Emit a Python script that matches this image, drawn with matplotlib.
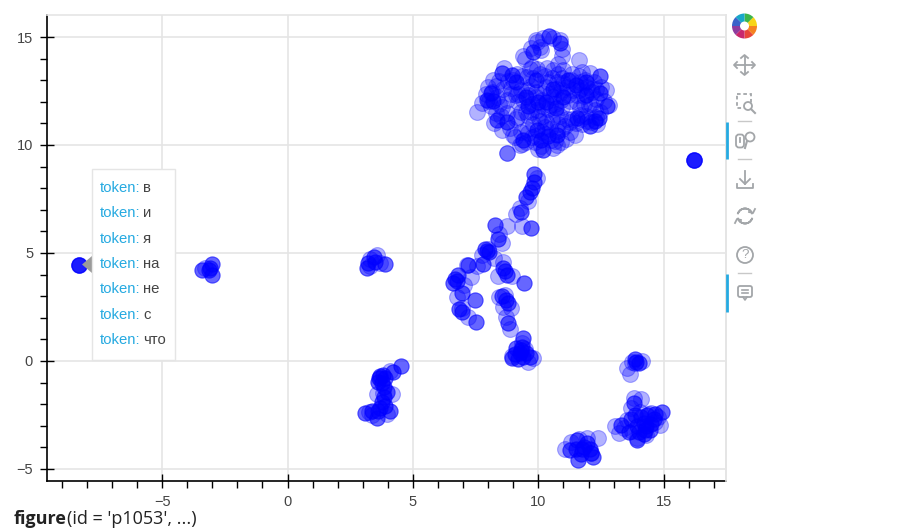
import matplotlib
matplotlib.use('Agg')
import matplotlib.pyplot as plt
from matplotlib.patches import Rectangle, Polygon, Circle, Wedge, FancyBboxPatch

# solid looking points (several tokens stacked on the same spot)
dense_left = [(-8.3, 4.45), (-8.3, 4.45), (16.2, 9.3), (16.2, 9.3), (-3.0, 4.5), (-3.0, 4.0), (-3.4, 4.2),
              (-3.15, 4.2), (-3.1, 4.3), (3.15, 4.3), (3.2, 4.55), (3.45, 4.8), (3.5, 4.6), (3.9, 4.5)]
dense_low = [(4.53, -0.23), (4.2, -0.5), (3.8, -0.65), (3.6, -0.97), (3.96, -1.43), (3.76, -1.9),
             (3.1, -2.4), (3.56, -2.64), (4.08, -2.3), (3.7, -2.2), (3.65, -0.8), (3.85, -1.2),
             (3.75, -1.0), (3.9, -0.8), (3.85, -1.65), (3.6, -2.3), (3.35, -2.3), (3.9, -2.1), (3.7, -0.7)]
dense_mid = [(9.83, 8.66), (9.83, 8.3), (9.67, 7.82), (9.5, 7.6), (9.3, 6.9), (9.7, 6.15), (8.27, 6.3),
             (8.4, 5.65), (7.88, 5.18), (8.05, 5.05), (7.2, 4.45), (7.8, 4.5), (6.68, 3.8), (6.8, 4.0),
             (6.6, 3.6), (6.96, 3.15), (7.48, 2.82), (6.96, 2.27), (6.85, 2.4), (7.5, 1.8), (8.6, 4.3),
             (8.75, 4.0), (8.65, 4.15), (9.43, 3.6), (8.55, 3.0), (8.7, 2.8), (8.8, 2.68), (8.8, 1.75),
             (9.4, 1.05), (9.27, 0.37), (8.96, 0.12), (9.67, 0.2), (9.3, 0.5), (9.4, 0.2), (9.1, 0.6),
             (9.2, 0.1), (9.5, 0.35), (9.35, 0.65), (9.05, 0.3), (6.75, 3.7), (9.75, 8.0), (7.95, 5.1)]
dense_right = [(13.9, -0.05), (13.85, 0.1), (14.0, -0.1), (14.93, -2.35), (13.8, -1.95), (13.3, -2.97),
               (13.93, -3.66), (14.45, -3.2), (14.2, -2.87), (14.3, -3.0), (14.6, -2.7), (14.0, -3.3),
               (14.25, -3.2), (14.1, -2.6), (13.85, -2.5), (14.5, -2.9), (13.95, -3.0), (14.35, -2.5),
               (13.6, -3.3), (14.65, -2.45), (14.2, -3.4), (13.7, -2.7),
               (12.18, -4.45), (11.58, -4.58), (11.26, -4.12), (11.8, -3.98), (11.53, -3.66),
               (12.05, -4.1), (11.7, -4.3), (11.95, -3.8), (11.75, -4.1), (11.5, -4.1), (12.1, -4.25)]
dense_top = [(10.44, 15.05), (10.87, 14.74), (9.78, 14.32), (8.54, 13.32), (8.94, 13.24), (12.46, 13.2),
             (7.94, 12.09), (8.34, 11.16), (8.74, 11.08), (12.46, 12.4), (12.73, 11.8),
             (12.4, 11.24), (12.06, 10.88), (11.53, 11.24), (10.2, 9.77), (9.4, 10.23), (10.73, 10.47),
             (9.94, 10.7), (10.3, 12.0), (11.5, 12.8), (11.0, 12.2), (9.6, 11.8), (10.0, 12.0), (10.7, 11.7),
             (11.9, 12.9), (11.9, 12.3), (9.1, 12.9), (9.9, 13.0), (10.4, 10.4), (8.1, 12.4), (11.2, 13.0),
             (10.6, 12.6), (9.5, 12.2), (8.2, 12.05), (12.25, 11.1), (10.1, 10.25)]
dense_stray = [(8.74, 9.62)]

# see-through points, one list per group
light_top = [(7.57, 11.55), (7.75, 11.95), (7.9, 12.35), (8.0, 12.7), (8.1, 11.8), (8.15, 12.45),
             (8.2, 13.0), (8.3, 11.5), (8.35, 12.2), (8.45, 12.95), (8.5, 11.35), (8.6, 12.6),
             (8.62, 13.55), (8.55, 11.75), (8.8, 12.95), (8.85, 10.8), (8.9, 12.35), (8.75, 11.5),
             (9.0, 13.0), (9.05, 10.35), (9.2, 12.0), (9.2, 12.35), (9.25, 10.0), (9.1, 11.2),
             (9.35, 13.2), (9.4, 12.1), (9.45, 14.0), (9.5, 11.55), (9.7, 12.75), (9.6, 10.55),
             (9.65, 13.5), (9.7, 14.5), (9.75, 11.9), (9.8, 13.1), (9.85, 10.15), (9.9, 12.45),
             (9.95, 14.75), (10.0, 11.3), (10.05, 13.3), (10.1, 9.95), (10.15, 12.1), (10.1, 14.4),
             (10.25, 10.85), (10.3, 12.7), (10.35, 13.55), (10.4, 11.65), (10.45, 12.35), (10.5, 10.25),
             (10.55, 13.1), (10.6, 14.95), (10.65, 11.9), (10.7, 12.6), (10.75, 10.65), (10.8, 13.3),
             (10.85, 11.35), (10.9, 12.1), (10.95, 14.1), (11.0, 12.85), (11.05, 10.9), (10.95, 11.75),
             (11.0, 13.45), (11.2, 12.3), (11.25, 10.6), (11.3, 13.0), (11.35, 11.2), (11.4, 12.55),
             (11.6, 13.95), (11.5, 11.0), (11.55, 12.3), (11.6, 13.2), (11.65, 11.7), (11.7, 12.65),
             (11.75, 10.95), (11.8, 12.25), (11.85, 13.0), (11.9, 11.35), (11.95, 12.7), (12.0, 11.85),
             (12.05, 13.35), (12.1, 11.05), (12.15, 12.45), (12.2, 12.9), (12.25, 11.6), (12.3, 12.15),
             (12.35, 10.95), (12.5, 12.7), (12.6, 12.05), (12.7, 12.55), (12.8, 11.85), (12.45, 11.55),
             (8.25, 11.0), (8.55, 10.7), (9.0, 10.45), (9.35, 10.05), (10.6, 9.85), (10.9, 10.15),
             (11.1, 10.3), (11.45, 10.45), (9.55, 10.75), (9.85, 10.4), (10.0, 9.8), (10.25, 10.5),
             (10.75, 10.0), (10.95, 10.75), (11.65, 11.4), (9.4, 14.1), (9.75, 13.6), (10.05, 14.55),
             (9.9, 14.85), (10.95, 14.45), (10.8, 13.75), (10.2, 14.95), (10.85, 14.85),
             (8.75, 12.1), (9.15, 11.3), (9.6, 12.3), (10.05, 11.1), (10.4, 12.9), (10.85, 12.4),
             (11.8, 11.9), (11.7, 11.2), (12.1, 11.9), (9.95, 11.6), (10.2, 11.35), (10.55, 11.15),
             (10.8, 10.95), (11.15, 11.2), (10.3, 11.05), (9.6, 11.35), (9.8, 10.95), (9.3, 11.55),
             (9.1, 12.3), (8.9, 12.65), (9.3, 12.55), (9.15, 13.3), (9.55, 13.15), (9.95, 13.5),
             (10.25, 13.2), (10.6, 13.45), (10.95, 13.1), (11.35, 13.3), (11.75, 13.4), (12.1, 12.6),
             (11.55, 12.0), (11.25, 12.05), (10.95, 12.55), (10.6, 12.2), (10.2, 12.4), (9.9, 12.2),
             (9.55, 12.55), (11.6, 12.55), (12.3, 12.6), (12.3, 11.3), (11.95, 11.1), (11.65, 12.9),
             (10.45, 11.85), (10.15, 11.8), (9.7, 11.55), (8.3, 12.75), (8.05, 12.05), (8.45, 11.9),
             (10.75, 12.9), (11.15, 12.7), (10.7, 11.45), (10.45, 10.75), (10.15, 10.6), (9.75, 10.35),
             (9.3, 10.6), (9.5, 10.15), (10.65, 10.2), (11.25, 11.05)]
light_left = [(-8.3, 4.45), (16.2, 9.3), (-3.3, 4.3), (3.3, 4.4), (3.7, 4.55), (3.3, 4.7), (3.55, 4.9),
              (4.1, -0.45), (3.7, -0.8), (3.25, -2.35), (3.8, -1.5), (4.15, -1.55), (3.55, -1.55),
              (3.95, -2.45), (3.35, -2.5)]
light_mid = [(9.95, 8.45), (9.6, 7.4), (9.25, 7.1), (9.1, 6.8), (9.35, 6.25), (8.75, 6.25), (8.45, 5.9),
             (8.55, 5.45), (8.0, 5.2), (7.75, 4.9), (7.15, 4.45), (7.55, 4.4), (7.3, 3.9), (8.25, 4.75),
             (8.6, 4.6), (8.4, 3.95), (8.95, 3.95), (8.45, 2.95), (8.65, 3.05), (8.6, 2.5), (8.9, 2.45),
             (7.05, 3.5), (6.75, 2.95), (6.95, 2.45), (7.2, 2.05), (8.7, 2.05), (8.85, 1.5), (9.35, 0.85),
             (9.45, 0.55), (8.95, 0.25), (9.6, -0.05), (9.8, 0.15)]
light_right = [(13.55, -0.35), (13.65, -0.6), (13.75, -0.05), (13.85, -0.1), (14.15, 0.0), (12.38, -3.56),
               (11.05, -4.1), (11.3, -3.75), (11.6, -3.6), (11.95, -3.55), (12.1, -4.25),
               (13.05, -3.0), (13.2, -3.35), (13.55, -2.75), (13.7, -2.2), (14.1, -1.75), (14.4, -2.45),
               (14.75, -2.6), (14.85, -2.95), (14.65, -2.85), (14.3, -3.45), (13.95, -3.55), (13.4, -3.1),
               (13.75, -3.25), (14.5, -2.4), (14.05, -2.35), (13.8, -1.7)]

x_ticks_major = [-5, 0, 5, 10, 15]
y_ticks_major = [-5, 0, 5, 10, 15]
x_ticks_minor = [-9, -8, -7, -6, -4, -3, -2, -1, 1, 2, 3, 4, 6, 7, 8, 9, 11, 12, 13, 14, 16, 17]
y_ticks_minor = [-4, -3, -2, -1, 1, 2, 3, 4, 6, 7, 8, 9, 11, 12, 13, 14]

tokens = ['в', 'и', 'я', 'на', 'не', 'с', 'что']

GRID = '#e5e5e5'
W, H = 924, 531

plt.rcParams['font.family'] = ['Liberation Sans', 'DejaVu Sans']
fig = plt.figure(figsize=(W / 100, H / 100), dpi=100)

ax = fig.add_axes([47 / W, 1 - 481 / H, (726 - 47) / W, (481 - 15) / H])
ax.set_xlim(-9.59, 17.48)
ax.set_ylim(-5.56, 16.02)

light = light_top + light_left + light_mid + light_right
dense = dense_left + dense_low + dense_mid + dense_right + dense_top
ax.scatter([p[0] for p in light], [p[1] for p in light], s=130, color='blue', alpha=0.3, linewidths=0.8, zorder=3)
ax.scatter([p[0] for p in dense], [p[1] for p in dense], s=120, color='blue', alpha=0.6, linewidths=0.8, zorder=3)
ax.scatter([p[0] for p in dense_stray], [p[1] for p in dense_stray], s=125, color='blue', alpha=0.55, linewidths=0.8, zorder=3)

ax.set_xticks(x_ticks_major)
ax.set_yticks(y_ticks_major)
ax.set_xticks(x_ticks_minor, minor=True)
ax.set_yticks(y_ticks_minor, minor=True)
ax.grid(True, which='major', color=GRID, linewidth=1.2, zorder=0)
ax.set_axisbelow(True)
ax.tick_params(which='major', direction='inout', length=10, width=1, colors='black',
               labelcolor='#444444', labelsize=10.5, pad=5)
ax.tick_params(which='minor', direction='out', length=5, width=1, colors='black')
for side in ['top', 'right']:
    ax.spines[side].set_color(GRID)
    ax.spines[side].set_linewidth(1.2)
for side in ['left', 'bottom']:
    ax.spines[side].set_color('black')
    ax.spines[side].set_linewidth(1.2)

# overlay in pixel coordinates for the hover box and the toolbar
ov = fig.add_axes([0, 0, 1, 1], facecolor='none')
ov.set_xlim(0, W)
ov.set_ylim(H, 0)
ov.axis('off')

# hover tooltip
ov.add_patch(Polygon([[82, 264.5], [92, 256], [92, 273]], color='#9a9a9a', lw=0))
ov.add_patch(Rectangle((92, 168.5), 83, 191, facecolor='white', edgecolor=GRID, lw=1))
rows = [188, 213, 239, 264, 289, 315, 340]
for row, tok in zip(rows, tokens):
    ov.text(100, row, 'token:', color='#26aae1', fontsize=10.7, va='center')
    ov.text(143, row, tok, color='#444444', fontsize=10.7, va='center')

# toolbar
ICON = '#a3a6a9'
ov.plot([726, 726], [15, 481], color=GRID, lw=1.2)
for y0, y1 in [(122, 159), (274, 312)]:
    ov.plot([727, 727], [y0, y1], color='#26aae1', lw=2, solid_capstyle='butt')
for y0 in [121, 159, 273]:
    ov.plot([738, 751], [y0, y0], color='#c8c8c8', lw=1)

# logo
logo_colors = ['#e8463a', '#f58220', '#f7d417', '#3cb54a', '#19a7c9', '#3a62c9', '#8e3b9e', '#c8286e']
for i, c in enumerate(logo_colors):
    ov.add_patch(Wedge((744.5, 26), 12.5, 90 - (i + 1) * 45, 90 - i * 45, width=8, color=c, lw=0))

# pan
ov.plot([735, 753], [65, 65], color=ICON, lw=1.3)
ov.plot([744.5, 744.5], [56, 74], color=ICON, lw=1.3)
for p in [[[737, 62], [734, 65], [737, 68]], [[752, 62], [755, 65], [752, 68]],
          [[741, 58], [744.5, 55], [748, 58]], [[741, 72], [744.5, 75], [748, 72]]]:
    ov.plot(*zip(*p), color=ICON, lw=1.3)

# box zoom
ov.add_patch(Rectangle((737, 94), 14, 14, fill=False, edgecolor=ICON, lw=1.3, ls=(0, (2, 1.5))))
ov.add_patch(Circle((748, 106), 4, facecolor='white', edgecolor=ICON, lw=1.3))
ov.plot([751, 755], [109, 109 + 4], color=ICON, lw=1.5)

# wheel zoom
ov.add_patch(FancyBboxPatch((737.5, 136), 5, 10, boxstyle='round,pad=1.5,rounding_size=3',
                            fill=False, edgecolor=ICON, lw=1.3))
ov.plot([740, 740], [138, 142], color=ICON, lw=1.3)
ov.add_patch(Circle((750, 137), 4.5, fill=False, edgecolor=ICON, lw=1.3))
ov.plot([747, 745], [141, 148], color=ICON, lw=1.5)

# save
ov.plot([745, 745], [171, 184], color=ICON, lw=1.3)
ov.plot([740, 745, 750], [179, 184, 179], color=ICON, lw=1.3)
ov.plot([737, 737, 753, 753], [184, 188, 188, 184], color=ICON, lw=1.3)

# reset
ov.add_patch(Wedge((745, 216), 7.5, 200, 340, width=0.01, edgecolor=ICON, lw=1.3, fill=False))
ov.add_patch(Wedge((745, 216), 7.5, 20, 160, width=0.01, edgecolor=ICON, lw=1.3, fill=False))
ov.plot([749, 753, 755], [212, 213, 209], color=ICON, lw=1.3)
ov.plot([741, 737, 735], [220, 219, 223], color=ICON, lw=1.3)

# help
ov.add_patch(Circle((745, 255), 8, fill=False, edgecolor=ICON, lw=1.3))
ov.text(745, 255, '?', color=ICON, fontsize=9.5, ha='center', va='center')

# comment
ov.add_patch(FancyBboxPatch((739, 287), 12, 9, boxstyle='round,pad=1,rounding_size=2',
                            fill=False, edgecolor=ICON, lw=1.3))
ov.plot([742, 748], [289.5, 289.5], color=ICON, lw=1.2)
ov.plot([742, 748], [293, 293], color=ICON, lw=1.2)
ov.plot([743, 745, 747], [297, 300, 297], color=ICON, lw=1.2)

# caption under the plot
t = ov.text(14, 519, 'figure', color='#222222', fontsize=13, fontweight='bold',
            family=['Open Sans', 'DejaVu Sans'], va='center')
bb = t.get_window_extent(fig.canvas.get_renderer())
ov.text(bb.x1 + 0.5, 519, "(id = 'p1053', ...)", color='#222222', fontsize=13,
        family=['Open Sans', 'DejaVu Sans'], va='center')

fig.savefig('out.png', dpi=100)
